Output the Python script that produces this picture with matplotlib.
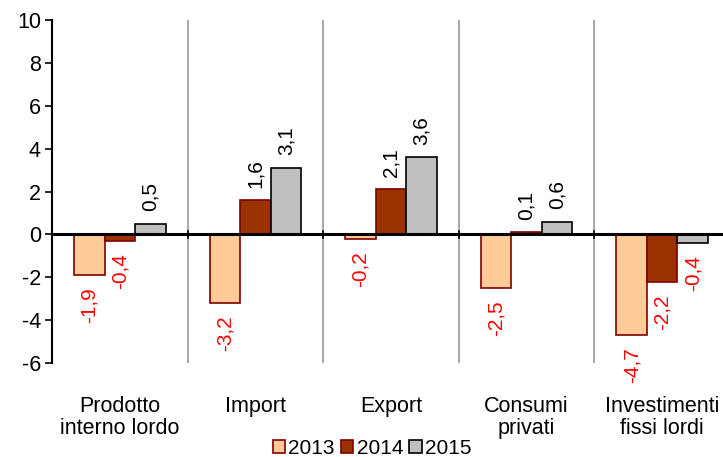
import matplotlib
matplotlib.use("Agg")
import matplotlib.pyplot as plt
import numpy as np

plt.rcParams['font.family'] = ['Liberation Sans', 'DejaVu Sans']
plt.rcParams['axes.unicode_minus'] = False

categories = ["Prodotto\ninterno lordo", "Import", "Export", "Consumi\nprivati", "Investimenti\nfissi lordi"]
years = ["2013", "2014", "2015"]
v2013 = [-1.9, -3.2, -0.2, -2.5, -4.7]
v2014 = [-0.3, 1.6, 2.1, 0.1, -2.2]
v2015 = [0.5, 3.1, 3.6, 0.6, -0.4]
labels2013 = ["-1,9", "-3,2", "-0,2", "-2,5", "-4,7"]
labels2014 = ["-0,4", "1,6", "2,1", "0,1", "-2,2"]
labels2015 = ["0,5", "3,1", "3,6", "0,6", "-0,4"]

faces = ["#FFCC99", "#993300", "#C0C0C0"]
edges = ["#800000", "#800000", "#000000"]

fig = plt.figure(figsize=(7.23, 4.57), dpi=100)
ax = fig.add_axes([52 / 723, 1 - 363 / 457, (730 - 52) / 723, 343 / 457])

x = np.arange(len(categories))
w = 0.225
series = [(v2013, labels2013), (v2014, labels2014), (v2015, labels2015)]
for i, (vals, labs) in enumerate(series):
    xs = x + (i - 1) * w
    ax.bar(xs, vals, width=w, color=faces[i], edgecolor=edges[i], linewidth=1.2,
           label=years[i], zorder=3)
    for xi, v, t in zip(xs, vals, labs):
        neg = v < 0
        ax.annotate(t, (xi, v), xytext=(0, -9 if neg else 9), textcoords="offset points",
                    rotation=90, ha="center", va="top" if neg else "bottom",
                    color="#FF0000" if neg else "black", fontsize=15)

# separators between categories
for b in np.arange(0.5, len(categories) - 0.5, 1):
    ax.axvline(b, color="#999999", linewidth=1.2, zorder=1)
    ax.plot([b, b], [-0.15, 0.15], color="black", linewidth=1.2, zorder=4)
ax.axhline(0, color="black", linewidth=2.2, zorder=4)

ax.set_xlim(-0.5, len(categories) - 0.5)
ax.set_ylim(-6, 10)
ax.set_yticks(range(-6, 11, 2))
ax.tick_params(axis="y", labelsize=15.5, length=5, width=1.2, direction="out", pad=3)
ax.set_xticks(x)
ax.set_xticklabels(categories, fontsize=15.5, linespacing=1.05)
ax.tick_params(axis="x", length=0, pad=24)
for s in ["top", "right", "bottom"]:
    ax.spines[s].set_visible(False)
ax.spines["left"].set_linewidth(1.5)

ax.legend(loc="lower center", bbox_to_anchor=(372 / 723, -0.02), bbox_transform=fig.transFigure,
          ncol=3, frameon=False, fontsize=15, handlelength=0.6, handleheight=0.6,
          handletextpad=0.15, columnspacing=0.3, borderaxespad=0.0)

fig.savefig("out.png", dpi=100)
